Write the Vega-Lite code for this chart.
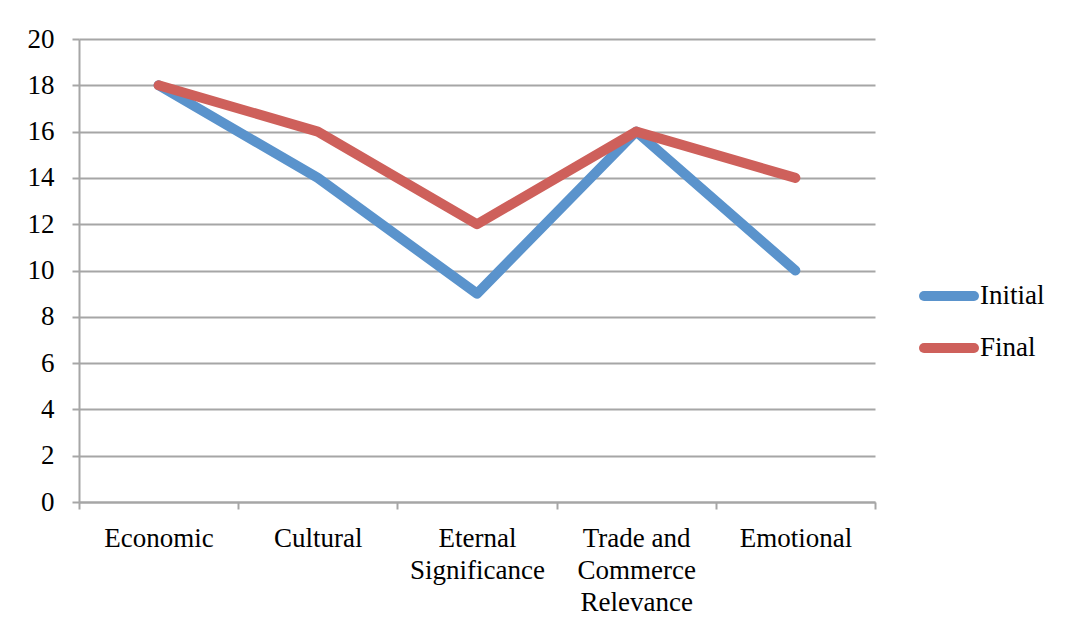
{
  "$schema": "https://vega.github.io/schema/vega-lite/v6.json",
  "autosize": "none",
  "padding": {"left": 79, "top": 39, "right": 201, "bottom": 129},
  "width": 796,
  "height": 463,
  "background": "white",
  "config": {
    "font": "Liberation Serif",
    "view": {"stroke": null},
    "axis": {
      "domainColor": "#A6A6A6",
      "domainWidth": 2,
      "tickColor": "#A6A6A6",
      "tickWidth": 2,
      "tickSize": 7,
      "gridColor": "#A6A6A6",
      "gridWidth": 2,
      "labelFont": "Liberation Serif",
      "labelFontSize": 27,
      "labelColor": "#000000",
      "title": null
    }
  },
  "data": {
    "values": [
      {"category": "Economic", "series": "Initial", "value": 18},
      {"category": "Cultural", "series": "Initial", "value": 14},
      {"category": "Eternal Significance", "series": "Initial", "value": 9},
      {"category": "Trade and Commerce Relevance", "series": "Initial", "value": 16},
      {"category": "Emotional", "series": "Initial", "value": 10},
      {"category": "Economic", "series": "Final", "value": 18},
      {"category": "Cultural", "series": "Final", "value": 16},
      {"category": "Eternal Significance", "series": "Final", "value": 12},
      {"category": "Trade and Commerce Relevance", "series": "Final", "value": 16},
      {"category": "Emotional", "series": "Final", "value": 14}
    ]
  },
  "encoding": {
    "x": {
      "field": "category",
      "type": "nominal",
      "sort": null,
      "bandPosition": 0.5,
      "scale": {"type": "band", "paddingInner": 0, "paddingOuter": 0},
      "axis": {
        "labelAngle": 0,
        "labelAlign": "center",
        "labelBaseline": "top",
        "labelPadding": 16,
        "labelLineHeight": 32,
        "tickBand": "extent",
        "grid": false,
        "labelExpr": "datum.value == 'Eternal Significance' ? ['Eternal', 'Significance'] : datum.value == 'Trade and Commerce Relevance' ? ['Trade and', 'Commerce', 'Relevance'] : datum.value"
      }
    },
    "y": {
      "field": "value",
      "type": "quantitative",
      "scale": {"domain": [0, 20], "nice": false},
      "axis": {
        "values": [0, 2, 4, 6, 8, 10, 12, 14, 16, 18, 20],
        "grid": true,
        "labelPadding": 18,
        "labelBaseline": "middle"
      }
    },
    "color": {
      "field": "series",
      "type": "nominal",
      "scale": {"domain": ["Initial", "Final"], "range": ["#5A93CC", "#CE605B"]},
      "legend": {
        "orient": "none",
        "legendX": 840,
        "legendY": 227,
        "title": null,
        "symbolType": "stroke",
        "symbolSize": 2500,
        "symbolStrokeWidth": 10,
        "labelFont": "Liberation Serif",
        "labelFontSize": 27,
        "labelColor": "#000000",
        "labelOffset": 1,
        "rowPadding": 2,
        "encode": {"symbols": {"update": {"strokeCap": {"value": "round"}}}}
      }
    }
  },
  "layer": [
    {
      "transform": [{"filter": "datum.series == 'Initial'"}],
      "mark": {"type": "line", "strokeWidth": 10, "strokeCap": "round", "strokeJoin": "round"}
    },
    {
      "transform": [{"filter": "datum.series == 'Final'"}],
      "mark": {"type": "line", "strokeWidth": 10, "strokeCap": "round", "strokeJoin": "round"}
    }
  ]
}
